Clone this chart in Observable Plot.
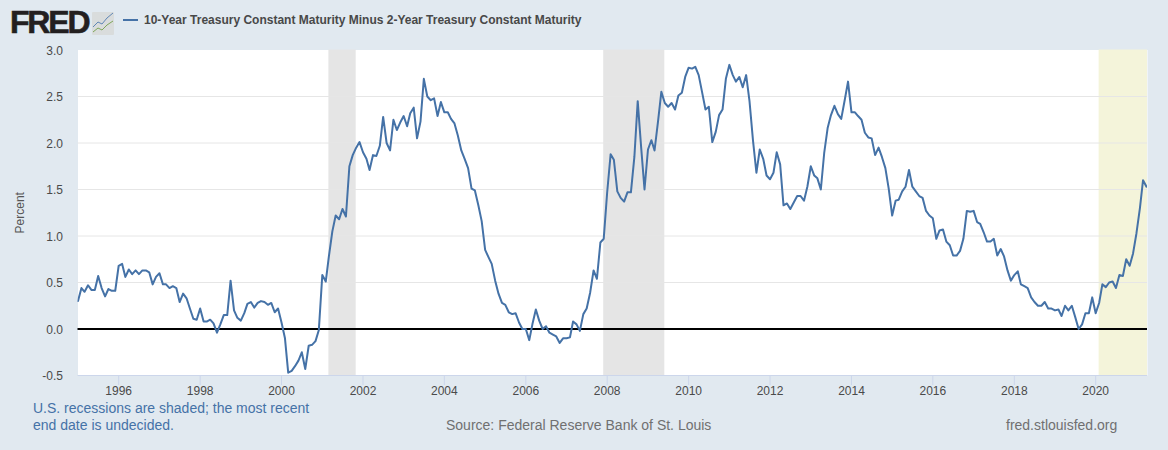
<!DOCTYPE html>
<html>
<head>
<meta charset="utf-8">
<script src="https://cdn.jsdelivr.net/npm/d3@7"></script>
<script src="https://cdn.jsdelivr.net/npm/@observablehq/plot@0.6"></script>
<style>
html,body{margin:0;padding:0;width:1168px;height:450px;overflow:hidden;background:#e1e9f0;font-family:"Liberation Sans",Arial,sans-serif}
#header{position:relative;height:42px}
#logo{position:absolute;left:10px;top:4px;font-size:32px;font-weight:bold;letter-spacing:-2.2px;color:#231f20;line-height:37px;-webkit-text-stroke:0.6px #231f20}
#icon{position:absolute;left:92px;top:12px}
#dash{position:absolute;left:123px;top:19px;width:15px;height:2px;background:#4572a7}
#title{position:absolute;left:144px;top:13px;font-size:12px;font-weight:bold;color:#484848;line-height:14px;white-space:nowrap}
#chart{height:358px}
#chart svg{display:block}
#footer{position:relative;height:50px;font-size:14px;line-height:17px}
#note{position:absolute;left:33px;top:0;color:#4572a7;white-space:pre}
#source{position:absolute;left:446px;top:17px;color:#707070;white-space:nowrap}
#site{position:absolute;left:1006px;top:17px;color:#707070;white-space:nowrap}
</style>
</head>
<body>
<div id="header">
  <div id="logo">FRED</div>
  <svg id="icon" width="22" height="23" viewBox="0 0 22 23">
    <rect width="22" height="23" rx="1" fill="#d9dcdc"/>
    <polyline points="1,15 6,10 10,12 15,6 21,1" fill="none" stroke="#5f86b5" stroke-width="1"/>
    <polyline points="1,20 6,16 10,18 15,13 21,9" fill="none" stroke="#7fa65a" stroke-width="1"/>
  </svg>
  <div id="dash"></div>
  <div id="title">10-Year Treasury Constant Maturity Minus 2-Year Treasury Constant Maturity</div>
</div>
<div id="chart"></div>
<div id="footer">
  <div id="note">U.S. recessions are shaded; the most recent
end date is undecided.</div>
  <div id="source">Source: Federal Reserve Bank of St. Louis</div>
  <div id="site">fred.stlouisfed.org</div>
</div>
<script>
const y1995 = [0.30,0.44,0.40,0.47,0.42,0.42,0.57,0.44,0.35,0.43,0.41,0.41];
const y1996 = [0.68,0.70,0.56,0.64,0.59,0.63,0.59,0.63,0.63,0.61,0.48,0.56];
const y1997 = [0.60,0.48,0.48,0.44,0.46,0.44,0.29,0.38,0.33,0.22,0.11,0.10];
const y1998 = [0.22,0.08,0.08,0.10,0.06,-0.04,0.05,0.15,0.15,0.52,0.20,0.12];
const y1999 = [0.09,0.17,0.27,0.29,0.23,0.28,0.30,0.29,0.26,0.28,0.18,0.22];
const y2000 = [0.07,-0.10,-0.47,-0.45,-0.40,-0.34,-0.25,-0.43,-0.18,-0.17,-0.13,-0.01];
const y2001 = [0.58,0.51,0.78,1.05,1.22,1.18,1.29,1.21,1.75,1.87,1.95,2.01];
const y2002 = [1.90,1.83,1.71,1.87,1.86,1.97,2.28,2.00,1.92,2.25,2.14,2.22];
const y2003 = [2.29,2.18,2.32,2.38,2.05,2.23,2.69,2.50,2.46,2.48,2.29,2.44];
const y2004 = [2.33,2.33,2.26,2.21,2.08,1.92,1.83,1.73,1.51,1.49,1.33,1.16];
const y2005 = [0.85,0.77,0.70,0.52,0.38,0.28,0.26,0.18,0.16,0.17,0.07,0.00];
const y2006 = [0.00,-0.12,0.05,0.21,0.09,0.00,0.03,-0.04,-0.06,-0.08,-0.15,-0.10];
const y2007 = [-0.10,-0.09,0.08,0.05,-0.02,0.16,0.22,0.39,0.63,0.54,0.93,0.97];
const y2008 = [1.47,1.88,1.82,1.48,1.41,1.37,1.47,1.47,1.85,2.45,1.95,1.50];
const y2009 = [1.93,2.03,1.92,2.23,2.55,2.43,2.39,2.43,2.36,2.51,2.54,2.71];
const y2010 = [2.81,2.80,2.82,2.73,2.55,2.36,2.39,2.01,2.12,2.30,2.36,2.69];
const y2011 = [2.84,2.73,2.66,2.71,2.60,2.73,2.45,2.03,1.68,1.93,1.83,1.65];
const y2012 = [1.61,1.68,1.90,1.77,1.33,1.35,1.29,1.36,1.43,1.43,1.38,1.53];
const y2013 = [1.75,1.65,1.62,1.50,1.89,2.16,2.30,2.40,2.31,2.26,2.46,2.66];
const y2014 = [2.33,2.33,2.29,2.25,2.11,2.06,2.05,1.87,1.95,1.85,1.73,1.51];
const y2015 = [1.22,1.38,1.39,1.48,1.53,1.71,1.53,1.48,1.43,1.41,1.27,1.22];
const y2016 = [1.19,0.97,1.06,1.07,0.94,0.90,0.79,0.79,0.84,0.97,1.27,1.26];
const y2017 = [1.27,1.15,1.13,1.04,0.94,0.94,0.97,0.79,0.86,0.78,0.63,0.52];
const y2018 = [0.58,0.62,0.48,0.46,0.44,0.34,0.29,0.25,0.25,0.29,0.22,0.22];
const y2019 = [0.20,0.21,0.14,0.25,0.20,0.25,0.13,0.00,0.05,0.17,0.17,0.34];
const y2020 = [0.17,0.28,0.48,0.45,0.50,0.51,0.44,0.58,0.57,0.75,0.68,0.81];
const y2021 = [1.03,1.30,1.60,1.53];

const values = [y1995,y1996,y1997,y1998,y1999,y2000,y2001,y2002,y2003,y2004,y2005,y2006,y2007,y2008,y2009,y2010,y2011,y2012,y2013,y2014,y2015,y2016,y2017,y2018,y2019,y2020,y2021].flat();
const series = values.map((v, i) => ({date: new Date(Date.UTC(1995, i, 1)), value: v}));

const domainEnd = "2021-04-10";
const recessionStart = ["2001-03-01","2007-12-01","2020-02-01"];
const recessionEnd = ["2001-11-01","2009-06-01",domainEnd];
const recessionFill = ["#e5e5e5","#e5e5e5","#f4f4da"];
const recessions = recessionStart.map((s, i) => ({x1: new Date(s), x2: new Date(recessionEnd[i]), fill: recessionFill[i]}));

const yTicks = [-0.5,0,0.5,1,1.5,2,2.5,3];
const xTicks = d3.range(1996, 2021, 2).map(y => new Date(Date.UTC(y, 0, 1)));

const fig = Plot.plot({
  width: 1168, height: 358,
  marginLeft: 77.5, marginRight: 21, marginTop: 7.5, marginBottom: 25,
  style: {background: "transparent", fontFamily: '"Liberation Sans",Arial,sans-serif', fontSize: "12px", color: "#4a4a4a"},
  x: {type: "utc", domain: [new Date(Date.UTC(1995,0,1)), new Date(domainEnd)]},
  y: {domain: [-0.5, 3]},
  marks: [
    Plot.frame({fill: "white", stroke: null}),
    Plot.rectY(recessions, {x1: "x1", x2: "x2", y1: -0.5, y2: 3, fill: d => d.fill}),
    Plot.ruleY(yTicks.filter(t => t !== 3 && t !== 0 && t !== -0.5), {stroke: "#e6e6e6", strokeWidth: 1, strokeOpacity: 1}),
    Plot.axisX({ticks: xTicks, tickFormat: d3.utcFormat("%Y"), tickSize: 10, tickPadding: 1, stroke: "#ccd6eb", strokeOpacity: 1, fill: "#4a4a4a", fontSize: 12, label: null, anchor: "bottom"}),
    Plot.ruleY([-0.5], {stroke: "#ccd6eb", strokeWidth: 1}),
    Plot.axisY({ticks: yTicks, tickFormat: d => d.toFixed(1), tickSize: 0, tickPadding: 15, dy: 1, fill: "#4a4a4a", fontSize: 12, label: null}),
    Plot.ruleY([0], {stroke: "black", strokeWidth: 2}),
    Plot.lineY(series, {x: "date", y: "value", stroke: "#4572a7", strokeWidth: 2, strokeLinejoin: "round", clip: true}),
    Plot.text(["Percent"], {frameAnchor: "left", dx: -57.5, textAnchor: "middle", rotate: -90, fill: "#555", fontSize: 12})
  ]
});
document.getElementById("chart").appendChild(fig);
</script>
</body>
</html>
